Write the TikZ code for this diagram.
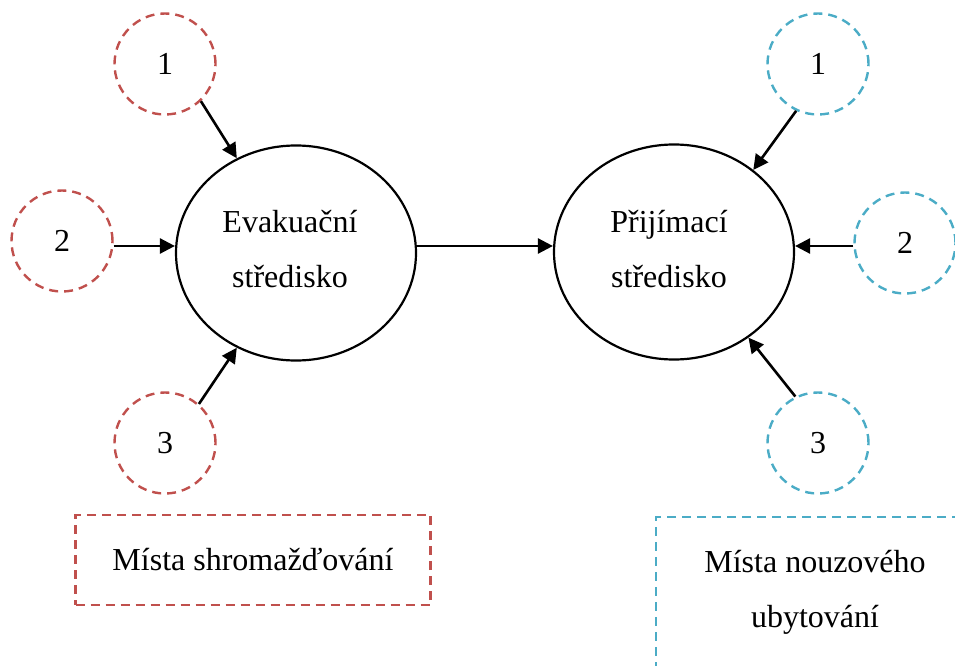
\documentclass[tikz,border=0pt]{standalone}
\usepackage{fontspec}
\setmainfont{Liberation Serif}
\usetikzlibrary{arrows.meta,shapes.geometric}
\definecolor{redc}{HTML}{C0504D}
\definecolor{bluec}{HTML}{4BACC6}
\begin{document}
\begin{tikzpicture}[x=1pt,y=-1pt,
  every node/.style={font=\fontsize{32}{55}\selectfont},
  src/.style={circle,draw,line width=2.4pt,dash pattern=on 9pt off 6pt,minimum size=101pt,inner sep=0pt},
  redsrc/.style={src,draw=redc},
  bluesrc/.style={src,draw=bluec},
  hub/.style={ellipse,draw,line width=2.2pt,minimum width=240pt,minimum height=215pt,inner sep=0pt},
  hubtext/.style={align=center,inner sep=0pt},
  arr/.style={line width=2.6pt,-{Triangle[length=15pt,width=15pt]}}]
\useasboundingbox (0,0) rectangle (955,666);
\clip (0,0) rectangle (955,666);
\node[hub] (ev) at (296,253) {};
\node[hubtext] (evt) at (290,249) {Evakuační\\středisko};
\node[hub] (pr) at (674,252) {};
\node[hubtext] (prt) at (669,249) {Přijímací\\středisko};
\node[redsrc] (l1) at (165,64) {1};
\node[redsrc] (l2) at (62,241) {2};
\node[redsrc] (l3) at (165,443) {3};
\node[bluesrc] (r1) at (818,64) {1};
\node[bluesrc] (r2) at (905,243) {2};
\node[bluesrc] (r3) at (818,443) {3};
\coordinate (ya) at (0,246);
\draw[arr] (l1.-46) -- (ev.122);
\draw[arr] (l2.east |- ya) -- (ev.west |- ya);
\draw[arr] (l3.49) -- (ev.238);
\draw[arr] (ev.east |- ya) -- (pr.west |- ya);
\draw[arr] (r1.245) -- (pr.46);
\draw[arr] (r2.west |- ya) -- (pr.east |- ya);
\draw[arr] (r3.116) -- (pr.-49);
\node[draw=redc,line width=2.4pt,dash pattern=on 9pt off 6pt,minimum width=355pt,minimum height=90pt] (bl) at (253,560) {Místa shromažďování};
\node[draw=bluec,line width=2.4pt,dash pattern=on 9pt off 6pt,minimum width=330pt,minimum height=200pt,anchor=north west,inner sep=0pt] (br) at (655,516) {};
\node[align=center] (brt) at (815,592) {Místa nouzového\\ubytování};
\end{tikzpicture}
\end{document}
